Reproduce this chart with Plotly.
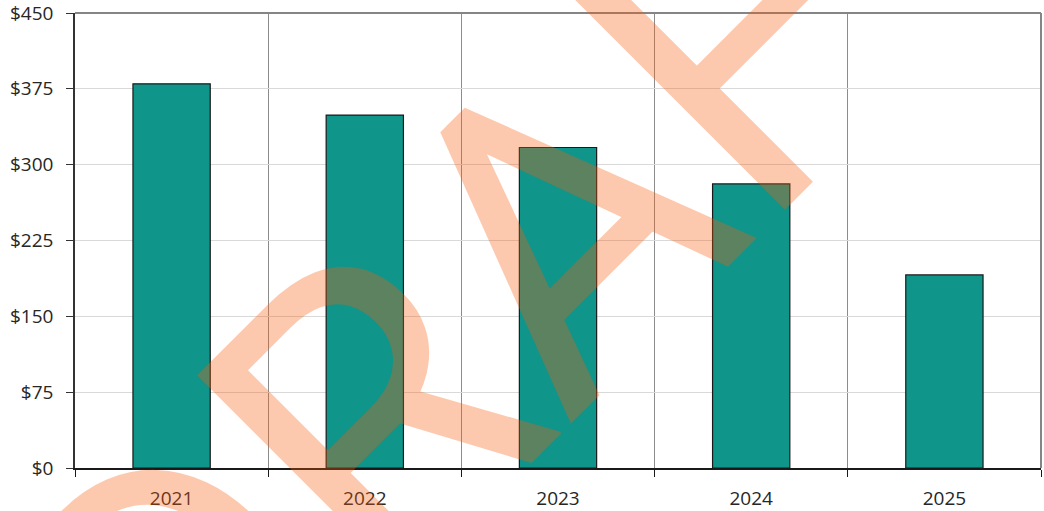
import plotly.graph_objects as go

# Annual values (USD)
years = ["2021", "2022", "2023", "2024", "2025"]
values = [380, 349, 317, 281, 191]

# Value axis ticks
y_ticks = [0, 75, 150, 225, 300, 375, 450]
y_tick_labels = ["$0", "$75", "$150", "$225", "$300", "$375", "$450"]

watermark_text = "DRAFT"

BAR_COLOR = "#10958A"
LABEL_FONT = dict(family="Open Sans", size=19, color="#262626")

fig = go.Figure(
    go.Bar(
        x=years,
        y=values,
        width=0.4,
        marker=dict(color=BAR_COLOR, line=dict(color="#1a1a1a", width=1.2)),
        hoverinfo="skip",
    )
)

fig.update_xaxes(
    type="category",
    tickson="boundaries",
    ticks="outside",
    ticklen=7,
    tickcolor="#1a1a1a",
    showgrid=True,
    gridcolor="#8c8c8c",
    gridwidth=1,
    showline=True,
    linecolor="#1a1a1a",
    linewidth=1.5,
    tickfont=LABEL_FONT,
    ticklabelstandoff=12,
    automargin=False,
)

fig.update_yaxes(
    range=[0, 450],
    tickvals=y_ticks,
    ticktext=y_tick_labels,
    ticks="outside",
    ticklen=7,
    tickcolor="#333333",
    showgrid=True,
    gridcolor="#d9d9d9",
    gridwidth=1.2,
    zeroline=False,
    showline=True,
    linecolor="#333333",
    linewidth=1.5,
    tickfont=LABEL_FONT,
    ticklabelstandoff=9,
    ticklabeloverflow="allow",
    automargin=False,
)

# Frame on the top and right edges of the plotting area
fig.add_shape(type="line", xref="paper", yref="paper", x0=0, x1=1, y0=1, y1=1,
              line=dict(color="#858585", width=2))
fig.add_shape(type="line", xref="paper", yref="paper", x0=1, x1=1, y0=0, y1=1,
              line=dict(color="#858585", width=2))

# Diagonal translucent watermark
fig.add_annotation(
    text=watermark_text,
    xref="paper", yref="paper",
    x=0.487, y=0.486,
    xanchor="center", yanchor="middle",
    showarrow=False,
    textangle=-45,
    font=dict(family="Roboto", size=420, color="rgba(250,90,10,0.33)"),
)

fig.update_layout(
    width=1044,
    height=511,
    margin=dict(l=75, r=3, t=13, b=43, autoexpand=False),
    paper_bgcolor="white",
    plot_bgcolor="white",
    showlegend=False,
    bargap=0.6,
)

fig.write_html("out.html")
